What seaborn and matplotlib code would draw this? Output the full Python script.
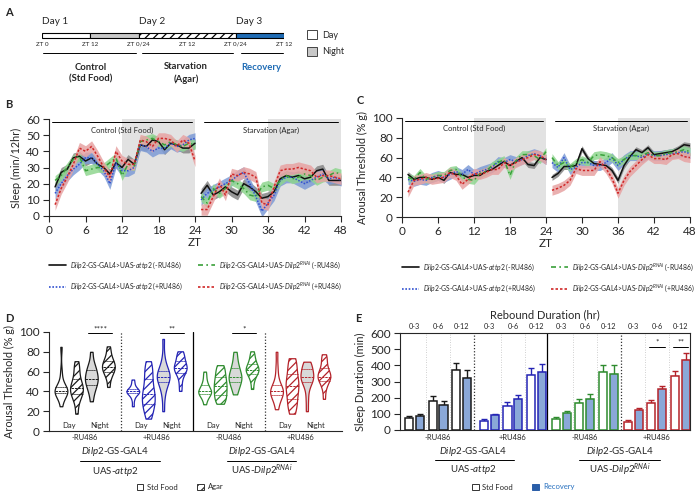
import numpy as np
import pandas as pd
import seaborn as sns
import matplotlib.pyplot as plt
from matplotlib.patches import Rectangle, Patch
from matplotlib.lines import Line2D
import matplotlib.transforms as mtransforms

sns.set_theme(style='ticks')
plt.rcParams['font.family'] = ['Lato', 'DejaVu Sans']
plt.rcParams['mathtext.fontset'] = 'custom'
plt.rcParams['mathtext.rm'] = 'Lato'
plt.rcParams['mathtext.it'] = 'Lato:italic'
plt.rcParams['mathtext.bf'] = 'Lato:bold'
plt.rcParams['axes.linewidth'] = 0.8
plt.rcParams['hatch.linewidth'] = 0.9
plt.rcParams['xtick.major.size'] = 4
plt.rcParams['ytick.major.size'] = 4
plt.rcParams['xtick.major.width'] = 0.8
plt.rcParams['ytick.major.width'] = 0.8

# -------------------------------------------
# data

hours = list(range(1, 49))

sleep_attp2_minus = [18, 27, 29, 36, 37, 34, 36, 32, 30, 26, 33, 30, 35, 32, 44, 43, 47, 46, 41, 45, 44, 42, 42, 45,
                     14, 19, 13, 15, 18, 15, 13, 20, 18, 15, 11, 12, 15, 23, 25, 24, 25, 23, 24, 28, 29, 22, 22, 22]
sleep_attp2_plus = [14, 20, 25, 29, 32, 36, 36, 32, 28, 20, 33, 28, 28, 30, 44, 43, 40, 42, 42, 45, 43, 44, 47, 48,
                    10, 14, 16, 18, 20, 22, 25, 27, 20, 12, 3, 8, 13, 22, 24, 24, 22, 20, 22, 24, 26, 23, 24, 22]
sleep_rnai_minus = [22, 25, 30, 35, 37, 28, 29, 30, 30, 33, 36, 25, 32, 31, 46, 47, 48, 46, 44, 46, 44, 43, 45, 44,
                    12, 8, 17, 14, 17, 22, 20, 17, 13, 12, 18, 19, 17, 22, 25, 23, 24, 26, 25, 22, 24, 25, 27, 26]
sleep_rnai_plus = [7, 17, 24, 32, 42, 40, 43, 37, 30, 24, 40, 34, 32, 32, 47, 46, 43, 48, 48, 47, 43, 47, 45, 34,
                   4, 4, 12, 20, 13, 26, 25, 27, 26, 24, 8, 7, 18, 28, 29, 29, 30, 29, 28, 24, 25, 25, 24, 23]
sleep_sem = [3.0, 3.5, 3.0, 3.5]

arousal_attp2_minus = [43, 38, 40, 40, 38, 40, 37, 45, 43, 43, 40, 42, 42, 46, 48, 52, 56, 52, 56, 60, 53, 52, 60, 58,
                       40, 44, 51, 51, 52, 69, 59, 54, 53, 52, 47, 37, 52, 61, 68, 65, 70, 63, 64, 65, 66, 69, 73, 72]
arousal_attp2_plus = [38, 36, 38, 37, 40, 42, 40, 43, 46, 43, 48, 43, 46, 48, 50, 56, 55, 58, 56, 58, 62, 64, 62, 58,
                      55, 50, 60, 48, 50, 55, 55, 52, 52, 55, 60, 52, 58, 62, 62, 60, 64, 62, 62, 63, 64, 65, 66, 64]
arousal_rnai_minus = [40, 38, 45, 38, 40, 42, 42, 47, 48, 40, 38, 37, 44, 46, 52, 55, 58, 42, 57, 63, 63, 62, 58, 66,
                      60, 52, 55, 50, 55, 58, 55, 62, 63, 62, 60, 55, 58, 62, 62, 62, 65, 62, 62, 64, 65, 66, 68, 66]
arousal_rnai_plus = [25, 37, 38, 40, 38, 39, 40, 45, 42, 33, 38, 44, 43, 45, 48, 48, 55, 52, 55, 58, 60, 63, 62, 58,
                     27, 29, 32, 37, 49, 47, 47, 47, 56, 49, 39, 24, 37, 46, 52, 58, 63, 59, 59, 58, 63, 64, 61, 60]
arousal_sem = [3.0, 5.0, 4.0, 5.0]

# violins: Day Std, Day Agar, Night Std, Night Agar
violin_attp2_minus = [[25, 32, 36, 38, 39, 40, 40, 40, 41, 42, 43, 45, 50, 60, 85],
                      [17, 28, 33, 36, 38, 40, 42, 43, 45, 48, 50, 55, 60, 65, 70],
                      [30, 38, 42, 45, 48, 50, 52, 53, 55, 58, 60, 63, 65, 70, 80],
                      [44, 52, 56, 59, 60, 62, 64, 65, 66, 68, 70, 72, 75, 80, 85]]
violin_attp2_plus = [[25, 32, 36, 38, 39, 40, 40, 40, 41, 42, 44, 48, 52],
                     [12, 18, 22, 26, 28, 32, 35, 37, 40, 45, 50, 55, 60, 65, 70],
                     [20, 35, 42, 48, 50, 52, 54, 55, 56, 58, 60, 62, 66, 75, 93],
                     [40, 48, 55, 58, 60, 62, 63, 64, 65, 67, 70, 72, 75, 78, 80]]
violin_rnai_minus = [[27, 32, 35, 36, 38, 39, 40, 40, 41, 43, 45, 47, 50, 55, 60],
                     [27, 30, 32, 35, 38, 40, 43, 45, 48, 50, 53, 56, 60, 63, 66],
                     [37, 42, 45, 48, 50, 52, 54, 55, 57, 59, 62, 65, 68, 74, 80],
                     [42, 50, 54, 57, 59, 60, 61, 62, 63, 65, 67, 69, 72, 76, 80]]
violin_rnai_plus = [[22, 28, 33, 35, 37, 39, 40, 40, 41, 43, 45, 48, 55, 65, 80],
                    [17, 22, 27, 30, 35, 40, 43, 45, 48, 52, 55, 60, 65, 70, 73],
                    [20, 32, 42, 48, 50, 52, 54, 55, 56, 58, 61, 64, 66, 68, 70],
                    [32, 42, 47, 50, 52, 54, 55, 55, 57, 59, 62, 65, 70, 74, 77]]

durations = ['0-3', '0-6', '0-12']
rebound_std = [[73, 181, 371], [56, 150, 338], [71, 167, 358], [52, 167, 333]]
rebound_rec = [[87, 156, 319], [90, 192, 358], [104, 192, 346], [125, 254, 433]]
rebound_std_err = [[14, 27, 46], [12, 22, 45], [12, 27, 45], [10, 17, 30]]
rebound_rec_err = [[15, 25, 50], [12, 25, 52], [12, 30, 55], [10, 20, 42]]

treatments = ['-RU486', '+RU486', '-RU486', '+RU486']
series_labels = [r'$\it{Dilp2}$-GS-GAL4>UAS-$\it{attp2}$ (-RU486)',
                 r'$\it{Dilp2}$-GS-GAL4>UAS-$\it{attp2}$ (+RU486)',
                 r'$\it{Dilp2}$-GS-GAL4>UAS-$\it{Dilp2}^{RNAi}$ (-RU486)',
                 r'$\it{Dilp2}$-GS-GAL4>UAS-$\it{Dilp2}^{RNAi}$ (+RU486)']

# -------------------------------------------
# styles

group_colors = ['#1a1a1a', '#2424b4', '#2e8b2e', '#b4232a']
line_colors = ['#111111', '#3050d0', '#3aa03a', '#d02828']
band_colors = ['#858585', '#7d9bd6', '#8fd68f', '#e7a3a3']
line_styles = ['-', (0, (1, 1)), (0, (3, 2, 1, 2)), (0, (1.5, 1.2))]
rec_fill = '#8aa8d8'
night_grey = '#e2e2e2'
TICK = 8.5

W, H = 700, 492
fig = plt.figure(figsize=(7, 4.92), dpi=100)


def box(x0, y0, x1, y1):
    return [x0 / W, 1 - y1 / H, (x1 - x0) / W, (y1 - y0) / H]


def panel_label(x, y, s):
    fig.text(x / W, 1 - y / H, s, fontsize=8, fontweight='bold', ha='left', va='center')


# -------------------------------------------
# A: schedule

axA = fig.add_axes(box(42, 0, 284, 95))
axA.set_xlim(0, 60)
axA.set_ylim(95, 0)
axA.axis('off')
seg_start = [0, 12, 24, 48]
seg_len = [12, 12, 24, 12]
seg_fill = ['white', '#c8c8c8', 'white', '#1f6cb5']
seg_hatch = [None, None, '////', None]
for s, l, c, h in zip(seg_start, seg_len, seg_fill, seg_hatch):
    axA.barh(35, l, left=s, height=5, color=c, edgecolor='black', linewidth=0.8, hatch=h)
for zt, lab in zip([0, 12, 24, 36, 48, 60], ['ZT 0', 'ZT 12', 'ZT 0/24', 'ZT 12', 'ZT 0/24', 'ZT 12']):
    axA.text(zt, 44, lab, fontsize=4.5, ha='center', va='center')
for zt, lab in zip([0, 24, 48], ['Day 1', 'Day 2', 'Day 3']):
    axA.text(zt, 21, lab, fontsize=7.2, ha='left', va='center')
for a, b in [(0.3, 23.3), (24.8, 47.4), (49.3, 59.8)]:
    axA.plot([a, b], [53, 53], color='black', lw=0.7)
axA.text(12, 73, 'Control\n(Std Food)', fontsize=6.8, fontweight='bold', ha='center', va='center', linespacing=1.4)
axA.text(35.7, 73, 'Starvation\n(Agar)', fontsize=6.8, fontweight='bold', ha='center', va='center', linespacing=1.4)
axA.text(54.3, 67, 'Recovery', fontsize=6.8, fontweight='bold', ha='center', va='center', color='#1f6cb5')
axA.add_patch(Rectangle((65.7, 30), 2.5, 9, facecolor='white', edgecolor='#444444', lw=0.7, clip_on=False))
axA.add_patch(Rectangle((65.7, 47), 2.5, 9, facecolor='#c8c8c8', edgecolor='#444444', lw=0.7, clip_on=False))
axA.text(69.4, 35, 'Day', fontsize=6.5, va='center')
axA.text(69.4, 52, 'Night', fontsize=6.5, va='center')
panel_label(5, 12, 'A')


# -------------------------------------------
# B, C: time courses

def time_panel(ax, series, sems, ylim, yticks, ylabel, bar_y, txt_y):
    ax.axvspan(12, 24, color=night_grey, lw=0, zorder=0)
    ax.axvspan(36, 48, color=night_grey, lw=0, zorder=0)
    for vals, sem, bc in zip(series, sems, band_colors):
        v = np.array(vals, dtype=float)
        for sl in (slice(0, 24), slice(24, 48)):
            ax.fill_between(hours[sl], v[sl] - sem, v[sl] + sem, color=bc, lw=0, alpha=0.85, zorder=1)
    for vals, lc, ls in zip(series, line_colors, line_styles):
        for sl in (slice(0, 24), slice(24, 48)):
            sns.lineplot(x=hours[sl], y=vals[sl], ax=ax, color=lc, linestyle=ls, lw=1.1, errorbar=None, zorder=3)
    ax.plot([0.5, 23.5], [bar_y, bar_y], color='black', lw=0.7)
    ax.plot([25.5, 47.5], [bar_y, bar_y], color='black', lw=0.7)
    ax.text(12, txt_y, 'Control (Std Food)', fontsize=5.5, ha='center', va='center')
    ax.text(36.5, txt_y, 'Starvation (Agar)', fontsize=5.5, ha='center', va='center')
    ax.set_xlim(0, 48)
    ax.set_ylim(*ylim)
    ax.set_xticks(range(0, 49, 6))
    ax.set_yticks(yticks)
    ax.set_xlabel('ZT', fontsize=TICK, labelpad=1)
    ax.set_ylabel(ylabel, fontsize=7.8, labelpad=3)
    ax.tick_params(labelsize=TICK, pad=2.5)
    sns.despine(ax=ax)
    handles = [Line2D([], [], color=c, linestyle=s, lw=1.2) for c, s in zip(line_colors, line_styles)]
    ax.legend(handles, series_labels, ncol=2, loc='upper left', bbox_to_anchor=(-0.01, -0.42),
              frameon=False, fontsize=4.9, handlelength=2.5, columnspacing=2.2, labelspacing=1.5,
              handletextpad=0.6, borderaxespad=0)


axB = fig.add_axes(box(49, 119, 341, 216))
time_panel(axB, [sleep_attp2_minus, sleep_attp2_plus, sleep_rnai_minus, sleep_rnai_plus], sleep_sem,
           (0, 60), range(0, 61, 10), 'Sleep (min/12hr)', 58, 53)
panel_label(5, 105, 'B')

axC = fig.add_axes(box(402, 118, 690, 217))
time_panel(axC, [arousal_attp2_minus, arousal_attp2_plus, arousal_rnai_minus, arousal_rnai_plus], arousal_sem,
           (0, 100), range(0, 101, 20), 'Arousal Threshold (% g)', 97, 89)
panel_label(357, 100, 'C')

# -------------------------------------------
# D: violins

axD = fig.add_axes(box(49, 332, 342, 431))
violin_sets = [violin_attp2_minus, violin_attp2_plus, violin_rnai_minus, violin_rnai_plus]
v_base = [0, 4.5, 9.0, 13.5]
v_off = [0, 1.0, 1.9, 3.0]
v_fill = ['white', 'white', '#d9d9d9', 'white']
v_hatch = [None, '////', None, '////']
for g, vset in enumerate(violin_sets):
    col = group_colors[g]
    for k, vals in enumerate(vset):
        pos = v_base[g] + v_off[k]
        n0 = len(axD.collections)
        with plt.rc_context({'hatch.color': col}):
            sns.violinplot(x=[pos] * len(vals), y=vals, native_scale=True, orient='x', ax=axD, cut=0,
                           inner='quart', width=0.8, bw_adjust=0.75, color=v_fill[k], linecolor=col,
                           linewidth=0.9, saturation=1, inner_kws=dict(color=col, linewidth=0.7))
        if v_hatch[k]:
            axD.collections[n0].set_hatch(v_hatch[k])
    axD.text(v_base[g] + 0.5, 6, 'Day', fontsize=5.5, ha='center', va='center')
    axD.text(v_base[g] + 2.45, 6, 'Night', fontsize=5.5, ha='center', va='center')
axD.axvline(3.75, color='#333333', lw=0.9, ls=(0, (1, 1.5)))
axD.axvline(12.8, color='#333333', lw=0.9, ls=(0, (1, 1.5)))
axD.axvline(8.25, color='black', lw=0.9)
for g, stars in [(0, '****'), (1, '**'), (2, '*')]:
    x0, x1 = v_base[g] + 1.9, v_base[g] + 3.0
    axD.plot([x0 - 0.2, x1 + 0.2], [99, 99], color='black', lw=0.7, clip_on=False)
    axD.text((x0 + x1) / 2, 99, stars, fontsize=6, ha='center', va='bottom')
axD.set_xlim(-0.75, 17.6)
axD.set_ylim(0, 100)
axD.set_yticks(range(0, 101, 20))
axD.set_xticks([])
axD.set_xlabel('')
axD.set_ylabel('Arousal Threshold (% g)', fontsize=7.8, labelpad=3)
axD.tick_params(labelsize=TICK, pad=2.5)
sns.despine(ax=axD)
panel_label(5, 319, 'D')


def below_labels(ax, centers, gene_centers, gene_spans, ax_h):
    tr = mtransforms.blended_transform_factory(ax.transData, ax.transAxes)
    for c, t in zip(centers, treatments):
        ax.text(c, -7 / ax_h, t, transform=tr, fontsize=5.5, ha='center', va='center')
    for c, (a, b), uas in zip(gene_centers, gene_spans,
                              ['UAS-$\\it{attp2}$', 'UAS-$\\it{Dilp2}^{RNAi}$']):
        ax.text(c, -21 / ax_h, r'$\it{Dilp2}$-GS-GAL4', transform=tr, fontsize=7, ha='center', va='center')
        ax.plot([a, b], [-30 / ax_h, -30 / ax_h], transform=tr, color='black', lw=0.7, clip_on=False)
        ax.text(c, -40 / ax_h, uas, transform=tr, fontsize=7, ha='center', va='center')


below_labels(axD, [b + 1.5 for b in v_base], [3.4, 12.6], [(1.2, 6.2), (10.4, 14.7)], 99)
legD = fig.legend([Patch(facecolor='white', edgecolor='#333333', lw=0.7),
                   Patch(facecolor='white', edgecolor='#333333', lw=0.7, hatch='////')],
                  ['Std Food', 'Agar'], loc='center', bbox_to_anchor=(180 / W, 1 - 487 / H), ncol=2,
                  frameon=False, fontsize=5.5, handlelength=0.9, handleheight=0.9, columnspacing=2.5,
                  handletextpad=0.5)

# -------------------------------------------
# E: rebound bars

axE = fig.add_axes(box(400, 333, 690, 430))
e_base = [0, 6.5, 12.75, 19.0]
d_off = [0, 2.05, 4.1]
pair_off = 0.95
rows = []
for g in range(4):
    for d in range(3):
        rows.append(dict(pos=e_base[g] + d_off[d], val=rebound_std[g][d], g=g, kind='std'))
        rows.append(dict(pos=e_base[g] + d_off[d] + pair_off, val=rebound_rec[g][d], g=g, kind='rec'))
df_e = pd.DataFrame(rows)
sns.barplot(data=df_e, x='pos', y='val', native_scale=True, width=0.74, errorbar=None, ax=axE,
            color='white', saturation=1)
lookup = {round(r.pos, 3): r for r in df_e.itertuples()}
for p in axE.patches:
    c = round(p.get_x() + p.get_width() / 2, 3)
    r = min(lookup.items(), key=lambda kv: abs(kv[0] - c))[1]
    p.set_facecolor('white' if r.kind == 'std' else rec_fill)
    p.set_edgecolor(group_colors[r.g])
    p.set_linewidth(1.1)
    p.set_zorder(3)
trE = mtransforms.blended_transform_factory(axE.transData, axE.transAxes)
for g in range(4):
    xs = [e_base[g] + o for o in d_off]
    axE.errorbar(xs, rebound_std[g], yerr=[[0, 0, 0], rebound_std_err[g]], fmt='none',
                 ecolor=group_colors[g], elinewidth=1, capsize=2, capthick=1, zorder=2)
    axE.errorbar([x + pair_off for x in xs], rebound_rec[g], yerr=[[0, 0, 0], rebound_rec_err[g]], fmt='none',
                 ecolor=group_colors[g], elinewidth=1, capsize=2, capthick=1, zorder=2)
    for m in (1.5, 3.55):
        axE.axvline(e_base[g] + m, color='#c0c0c0', lw=0.6, ls=(0, (1, 2)), zorder=0)
    for d, lab in enumerate(durations):
        axE.text(e_base[g] + d_off[d] + pair_off / 2, 1.035, lab, transform=trE,
                 fontsize=5.3, ha='center', va='bottom')
axE.axvline(5.65, color='#333333', lw=0.9, ls=(0, (1, 1.5)))
axE.axvline(18.43, color='#333333', lw=0.9, ls=(0, (1, 1.5)))
axE.axvline(12.0, color='black', lw=0.9)
for d, stars in [(1, '*'), (2, '**')]:
    x0 = e_base[3] + d_off[d]
    axE.plot([x0 - 0.2, x0 + pair_off + 0.2], [512, 512], color='black', lw=0.7)
    axE.text(x0 + pair_off / 2, 520, stars, fontsize=6, ha='center', va='bottom')
axE.set_xlim(-0.78, 24.4)
axE.set_ylim(0, 600)
axE.set_yticks(range(0, 601, 100))
axE.set_xticks([])
axE.set_xlabel('')
axE.set_ylabel('Sleep Duration (min)', fontsize=7.8, labelpad=3)
axE.tick_params(labelsize=TICK, pad=2.5)
fig.text(545 / W, 1 - 315 / H, 'Rebound Duration (hr)', fontsize=8, ha='center', va='center')
below_labels(axE, [b + 2.525 for b in e_base], [5.6, 18.3], [(2.3, 9.1), (14.8, 21.8)], 97)
legE = fig.legend([Patch(facecolor='white', edgecolor='#333333', lw=0.7),
                   Patch(facecolor='#2a5ea8', edgecolor='#2a5ea8', lw=0.7)],
                  ['Std Food', 'Recovery'], loc='center', bbox_to_anchor=(523 / W, 1 - 487 / H), ncol=2,
                  frameon=False, fontsize=5.5, handlelength=0.9, handleheight=0.9, columnspacing=2.5,
                  handletextpad=0.5)
legE.get_texts()[1].set_color('#2a72c0')
panel_label(355, 318, 'E')

fig.savefig('out.png', dpi=100)
